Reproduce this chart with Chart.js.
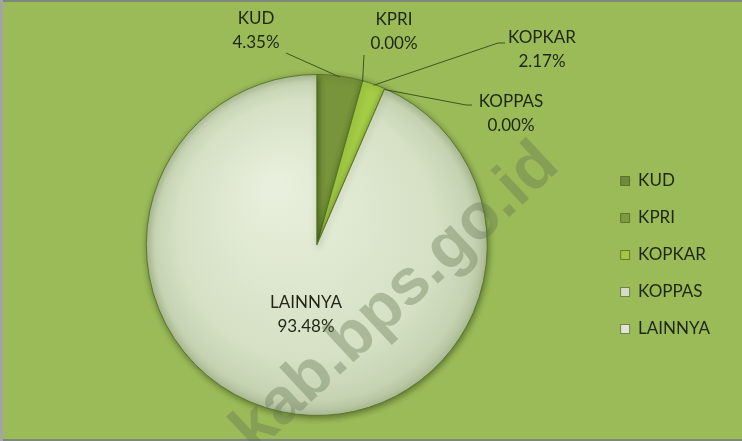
<!DOCTYPE html>
<html>
<head>
<meta charset="utf-8">
<script src="https://cdn.jsdelivr.net/npm/chart.js@4"></script>
<style>
  html, body { margin: 0; padding: 0; background: #9bbb59; }
  #wrap { width: 742px; height: 441px; position: relative; }
</style>
</head>
<body>
<div id="wrap"><canvas id="myChart"></canvas></div>
<script>
// Data
const categories = ['KUD', 'KPRI', 'KOPKAR', 'KOPPAS', 'LAINNYA'];
const shares = [4.35, 0.00, 2.17, 0.00, 93.48];

// Colours
const sliceColors = ['#78953c', '#8aa83f', '#a4cc45', '#dbe5cc', '#dbe5cc'];
const legendColors = ['#6f8a3a', '#7f9c3d', '#a3c743', '#d3ddc4', '#dfe6d5'];

// where the labels sit (text centre, start of leader line)
const labelSpots = [
    { x: 256, y: 19, lineFrom: [[286, 53]] },
    { x: 394, y: 20, lineFrom: [[364, 55]] },
    { x: 542, y: 38, lineFrom: [[505, 43], [498, 43]] },
    { x: 511, y: 102, lineFrom: [[472, 105], [466, 105]] },
    { x: 306, y: 303, lineFrom: null }
];

const FONT = 'Lato, "Open Sans", sans-serif';

function lainnyaFill(context) {
    const chart = context.chart;
    const area = chart.chartArea;
    if (!area) return '#dbe5cc';
    const cx = (area.left + area.right) / 2;
    const cy = (area.top + area.bottom) / 2;
    const r = Math.min(area.right - area.left, area.bottom - area.top) / 2;
    const g = chart.ctx.createRadialGradient(cx - r * 0.25, cy - r * 0.35, r * 0.05, cx, cy, r);
    g.addColorStop(0, '#e8efdc');
    g.addColorStop(0.75, '#d5e0c4');
    g.addColorStop(0.93, '#c6d3b2');
    g.addColorStop(1, '#aebd98');
    return g;
}

const bgPlugin = {
    id: 'bgFrame',
    beforeDraw(chart) {
        const c = chart.ctx;
        c.save();
        c.fillStyle = '#9bbb59';
        c.fillRect(0, 0, chart.width, chart.height);
        c.fillStyle = '#7f867a';
        c.fillRect(0, 0, chart.width, 2);
        c.fillRect(0, chart.height - 2, chart.width, 2);
        c.fillStyle = '#a2a4aa';
        c.fillRect(0, 0, 3, chart.height);
        c.restore();
    },
    beforeDatasetsDraw(chart) {
        const c = chart.ctx;
        c.save();
        c.shadowColor = 'rgba(40, 60, 10, 0.55)';
        c.shadowBlur = 6;
        c.shadowOffsetX = 1;
        c.shadowOffsetY = 2;
    },
    afterDatasetsDraw(chart) {
        chart.ctx.restore();
    }
};

const labelPlugin = {
    id: 'sliceLabels',
    afterDatasetsDraw(chart) {
        const c = chart.ctx;
        const meta = chart.getDatasetMeta(0);
        c.save();
        meta.data.forEach((arc, i) => {
            const spot = labelSpots[i];
            if (spot.lineFrom) {
                const mid = (arc.startAngle + arc.endAngle) / 2;
                const ex = arc.x + Math.cos(mid) * (arc.outerRadius - 1);
                const ey = arc.y + Math.sin(mid) * (arc.outerRadius - 1);
                c.strokeStyle = '#3d5520';
                c.lineWidth = 1;
                c.beginPath();
                c.moveTo(spot.lineFrom[0][0], spot.lineFrom[0][1]);
                spot.lineFrom.slice(1).forEach(p => c.lineTo(p[0], p[1]));
                c.lineTo(ex, ey);
                c.stroke();
            }
            c.fillStyle = '#1f2614';
            c.font = '17px ' + FONT;
            c.textAlign = 'center';
            c.textBaseline = 'middle';
            c.fillText(categories[i], spot.x, spot.y);
            c.fillText(shares[i].toFixed(2) + '%', spot.x, spot.y + 24);
        });
        c.restore();
    },
    afterDraw(chart) {
        // watermark
        const c = chart.ctx;
        c.save();
        c.translate(396, 298);
        c.rotate(-43 * Math.PI / 180);
        c.font = 'bold 65px "Liberation Sans", Arial, sans-serif';
        c.fillStyle = 'rgba(95, 115, 75, 0.36)';
        c.textAlign = 'center';
        c.textBaseline = 'middle';
        c.fillText('kab.bps.go.id', 0, 0);
        c.restore();
    }
};

const ctx = document.getElementById('myChart').getContext('2d');
const myChart = new Chart(ctx, {
    type: 'pie',
    data: {
        labels: categories,
        datasets: [{
            data: shares,
            backgroundColor: (context) => context.dataIndex === 4 ? lainnyaFill(context) : sliceColors[context.dataIndex],
            borderColor: 'rgba(85, 115, 40, 0.9)',
            borderWidth: 1
        }]
    },
    options: {
        responsive: true,
        maintainAspectRatio: false,
        animation: false,
        layout: {
            padding: { left: 33, right: 22, top: 74, bottom: 25 }
        },
        plugins: {
            tooltip: { enabled: false },
            legend: {
                position: 'right',
                // empty title only pushes the items down a little
                title: {
                    display: true,
                    text: ' ',
                    font: { size: 10, lineHeight: 1 },
                    padding: { top: 5, bottom: 5 }
                },
                labels: {
                    boxWidth: 9,
                    boxHeight: 9,
                    padding: 20,
                    color: '#1f2614',
                    font: { family: FONT, size: 17 },
                    generateLabels(chart) {
                        const items = Chart.overrides.pie.plugins.legend.labels.generateLabels(chart);
                        return items.map((it, i) => Object.assign(it, {
                            fillStyle: legendColors[i],
                            strokeStyle: 'rgba(60, 80, 30, 0.6)',
                            lineWidth: 1
                        }));
                    }
                }
            }
        }
    },
    plugins: [bgPlugin, labelPlugin]
});
</script>
</body>
</html>
